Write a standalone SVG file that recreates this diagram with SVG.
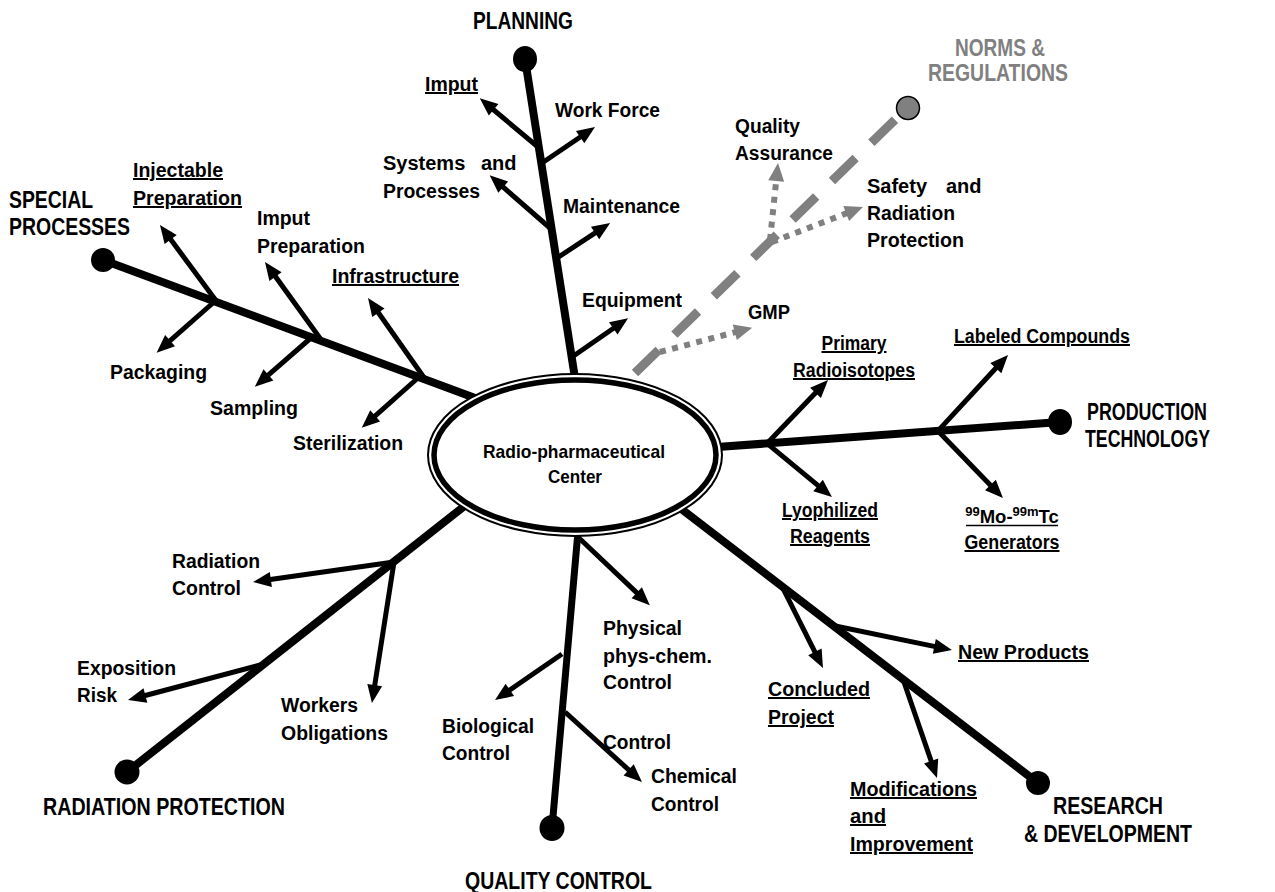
<svg xmlns="http://www.w3.org/2000/svg" width="1275" height="892" viewBox="0 0 1275 892">
<style>
text{font-family:"Liberation Sans",Arial,sans-serif;font-weight:bold;fill:#000}
.lb{font-size:20px}
.sm{font-size:20px}
.u{text-decoration:underline}
.hd{font-family:"Liberation Sans Narrow","Liberation Sans",Arial,sans-serif;font-size:23px}
.mid{text-anchor:middle}
.gray{fill:#808080}
.main{stroke:#000;stroke-width:8;fill:none}
.br{stroke:#000;stroke-width:5;fill:none;marker-end:url(#ah)}
.dot{stroke:#808080;stroke-width:6;stroke-dasharray:6 6.5;fill:none;marker-end:url(#ahg)}
.dash{stroke:#808080;stroke-width:9;stroke-dasharray:33 22;fill:none}
.knob{fill:#000}
</style>
<defs>
<marker id="ah" markerUnits="userSpaceOnUse" markerWidth="18" markerHeight="15" refX="6" refY="7.5" orient="auto" overflow="visible"><path d="M0,0 L18,7.5 L0,15 z" fill="#000"/></marker>
<marker id="ahg" markerUnits="userSpaceOnUse" markerWidth="18" markerHeight="16" refX="6" refY="8" orient="auto" overflow="visible"><path d="M0,0 L18,8 L0,16 z" fill="#808080"/></marker>
</defs>
<rect width="1275" height="892" fill="#fff"/>
<g id="connectors">
<line class="main" x1="525" y1="59" x2="578.4" y2="400"/>
<line class="main" x1="103" y1="260" x2="500" y2="407.3"/>
<line class="main" x1="1060" y1="422" x2="700" y2="448.3"/>
<line class="main" x1="127" y1="772" x2="480" y2="493.8"/>
<line class="main" style="stroke-width:7" x1="552" y1="828" x2="579" y2="520"/>
<line class="main" x1="1038" y1="783" x2="660" y2="492.6"/>
<line class="dash" x1="635" y1="373" x2="908" y2="107"/>
<line class="br" x1="538" y1="147" x2="489" y2="106"/>
<line class="br" x1="542" y1="163" x2="585.1" y2="133.8"/>
<line class="br" x1="550" y1="228" x2="498.7" y2="183.2"/>
<line class="br" x1="557" y1="258" x2="600.1" y2="229.7"/>
<line class="br" x1="572" y1="357" x2="618.2" y2="325"/>
<line class="br" x1="217" y1="302" x2="167.1" y2="234.6"/>
<line class="br" x1="214" y1="302" x2="165.6" y2="344.7"/>
<line class="br" x1="322" y1="341" x2="272" y2="271.7"/>
<line class="br" x1="312" y1="337" x2="263.9" y2="378.9"/>
<line class="br" x1="425" y1="379" x2="374.9" y2="307.8"/>
<line class="br" x1="419" y1="377" x2="370.7" y2="419.8"/>
<line class="br" x1="767" y1="443.4" x2="819.7" y2="388.6"/>
<line class="br" x1="767" y1="443.4" x2="822.7" y2="489.4"/>
<line class="br" x1="938" y1="430.9" x2="999.9" y2="363.8"/>
<line class="br" x1="938" y1="430.9" x2="994.6" y2="489.4"/>
<line class="br" x1="394" y1="562" x2="264.9" y2="580.3"/>
<line class="br" x1="394" y1="562" x2="373.8" y2="691.1"/>
<line class="br" x1="264" y1="664" x2="139.6" y2="697"/>
<line class="br" x1="579" y1="538" x2="641.1" y2="596.9"/>
<line class="br" x1="562" y1="654" x2="504.9" y2="693.3"/>
<line class="br" x1="565" y1="712" x2="633.1" y2="773.9"/>
<line class="br" x1="782" y1="586.4" x2="817.6" y2="657.3"/>
<line class="br" x1="833" y1="625.5" x2="940.2" y2="647.6"/>
<line class="br" x1="903" y1="679.3" x2="933.1" y2="766.7"/>
<line class="dot" x1="660" y1="352" x2="740.6" y2="330.7"/>
<line class="dot" x1="770" y1="240" x2="776.8" y2="175"/>
<line class="dot" x1="772" y1="242" x2="851.8" y2="211.3"/>
</g>
<g id="center">
<ellipse cx="575" cy="455" rx="147" ry="81" fill="#fff" stroke="#000" stroke-width="2"/>
<ellipse cx="575" cy="455" rx="141" ry="75" fill="none" stroke="#000" stroke-width="5.5"/>
<text class="mid" style="font-size:18.5px" x="574" y="458" textLength="182" lengthAdjust="spacingAndGlyphs">Radio-pharmaceutical</text>
<text class="mid" style="font-size:18.5px" x="575" y="483" textLength="54" lengthAdjust="spacingAndGlyphs">Center</text>
</g>
<g id="planning">
<ellipse class="knob" cx="525" cy="59" rx="12" ry="13"/>
<text class="hd mid" x="523" y="29" textLength="100" lengthAdjust="spacingAndGlyphs">PLANNING</text>
</g>
<g id="planning-labels">
<text class="lb u" x="425" y="91" textLength="53" lengthAdjust="spacingAndGlyphs">Imput</text>
<text class="lb" x="555" y="117" textLength="105" lengthAdjust="spacingAndGlyphs">Work Force</text>
<text class="lb" x="383" y="170">Systems<tspan x="481">and</tspan></text>
<text class="lb" x="383" y="198" textLength="97" lengthAdjust="spacingAndGlyphs">Processes</text>
<text class="lb" x="563" y="213" textLength="117" lengthAdjust="spacingAndGlyphs">Maintenance</text>
<text class="lb" x="582" y="307" textLength="100" lengthAdjust="spacingAndGlyphs">Equipment</text>
</g>
<g id="norms">
<circle cx="908" cy="108" r="11.5" fill="#808080" stroke="#000" stroke-width="1.5"/>
<text class="hd mid gray" x="1000" y="56" textLength="90" lengthAdjust="spacingAndGlyphs">NORMS &amp;</text>
<text class="hd mid gray" x="998" y="81" textLength="140" lengthAdjust="spacingAndGlyphs">REGULATIONS</text>
</g>
<g id="norms-labels">
<text class="lb" x="735" y="133" textLength="65" lengthAdjust="spacingAndGlyphs">Quality</text>
<text class="lb" x="735" y="160" textLength="98" lengthAdjust="spacingAndGlyphs">Assurance</text>
<text class="lb" x="867" y="193">Safety<tspan x="946">and</tspan></text>
<text class="lb" x="867" y="220" textLength="88" lengthAdjust="spacingAndGlyphs">Radiation</text>
<text class="lb" x="867" y="247" textLength="97" lengthAdjust="spacingAndGlyphs">Protection</text>
<text class="lb" x="748" y="319" textLength="42" lengthAdjust="spacingAndGlyphs">GMP</text>
</g>
<g id="special">
<circle class="knob" cx="103" cy="260" r="12"/>
<text class="hd" x="9" y="208" textLength="84" lengthAdjust="spacingAndGlyphs">SPECIAL</text>
<text class="hd" x="9" y="235" textLength="121" lengthAdjust="spacingAndGlyphs">PROCESSES</text>
</g>
<g id="special-labels">
<text class="lb u" x="133" y="177" textLength="90" lengthAdjust="spacingAndGlyphs">Injectable</text>
<text class="lb u" x="133" y="205" textLength="109" lengthAdjust="spacingAndGlyphs">Preparation</text>
<text class="lb" x="257" y="225" textLength="53" lengthAdjust="spacingAndGlyphs">Imput</text>
<text class="lb" x="257" y="253" textLength="108" lengthAdjust="spacingAndGlyphs">Preparation</text>
<text class="lb u" x="332" y="283" textLength="127" lengthAdjust="spacingAndGlyphs">Infrastructure</text>
<text class="lb" x="110" y="379" textLength="97" lengthAdjust="spacingAndGlyphs">Packaging</text>
<text class="lb" x="210" y="415" textLength="88" lengthAdjust="spacingAndGlyphs">Sampling</text>
<text class="lb" x="293" y="450" textLength="110" lengthAdjust="spacingAndGlyphs">Sterilization</text>
</g>
<g id="production">
<ellipse class="knob" cx="1060" cy="422" rx="12" ry="13"/>
<text class="hd mid" x="1147" y="420" textLength="120" lengthAdjust="spacingAndGlyphs">PRODUCTION</text>
<text class="hd mid" x="1147.5" y="447" textLength="125" lengthAdjust="spacingAndGlyphs">TECHNOLOGY</text>
</g>
<g id="production-labels">
<text class="sm u mid" x="854" y="350" textLength="65" lengthAdjust="spacingAndGlyphs">Primary</text>
<text class="sm u mid" x="854" y="377" textLength="122" lengthAdjust="spacingAndGlyphs">Radioisotopes</text>
<text class="sm u" x="954" y="343" textLength="176" lengthAdjust="spacingAndGlyphs">Labeled Compounds</text>
<text class="sm u mid" x="830" y="517" textLength="96" lengthAdjust="spacingAndGlyphs">Lyophilized</text>
<text class="sm u mid" x="830" y="543" textLength="80" lengthAdjust="spacingAndGlyphs">Reagents</text>
<text class="sm mid" style="font-size:18.5px" x="1012" y="523"><tspan style="font-size:13px" dy="-7">99</tspan><tspan dy="7">Mo-</tspan><tspan style="font-size:13px" dy="-7">99m</tspan><tspan dy="7">Tc</tspan></text>
<line x1="966" y1="525.5" x2="1058" y2="525.5" stroke="#000" stroke-width="1.5"/>
<text class="sm u mid" x="1012" y="549" textLength="95" lengthAdjust="spacingAndGlyphs">Generators</text>
</g>
<g id="radiation">
<circle class="knob" cx="127" cy="772" r="12.5"/>
<text class="hd mid" x="164" y="815" textLength="242" lengthAdjust="spacingAndGlyphs">RADIATION PROTECTION</text>
</g>
<g id="radiation-labels">
<text class="lb" x="172" y="568" textLength="88" lengthAdjust="spacingAndGlyphs">Radiation</text>
<text class="lb" x="172" y="595" textLength="69" lengthAdjust="spacingAndGlyphs">Control</text>
<text class="lb" x="77" y="675" textLength="99" lengthAdjust="spacingAndGlyphs">Exposition</text>
<text class="lb" x="77" y="702" textLength="40" lengthAdjust="spacingAndGlyphs">Risk</text>
<text class="lb" x="281" y="712" textLength="77" lengthAdjust="spacingAndGlyphs">Workers</text>
<text class="lb" x="281" y="740" textLength="107" lengthAdjust="spacingAndGlyphs">Obligations</text>
</g>
<g id="quality">
<ellipse class="knob" cx="552" cy="828" rx="12.5" ry="13"/>
<text class="hd mid" x="558.5" y="889" textLength="187" lengthAdjust="spacingAndGlyphs">QUALITY CONTROL</text>
</g>
<g id="quality-labels">
<text class="lb" x="603" y="635" textLength="79" lengthAdjust="spacingAndGlyphs">Physical</text>
<text class="lb" x="603" y="663" textLength="109" lengthAdjust="spacingAndGlyphs">phys-chem.</text>
<text class="lb" x="603" y="689" textLength="69" lengthAdjust="spacingAndGlyphs">Control</text>
<text class="lb" x="442" y="733" textLength="92" lengthAdjust="spacingAndGlyphs">Biological</text>
<text class="lb" x="442" y="760" textLength="68" lengthAdjust="spacingAndGlyphs">Control</text>
<text class="lb" x="603" y="749" textLength="68" lengthAdjust="spacingAndGlyphs">Control</text>
<text class="lb" x="651" y="783" textLength="86" lengthAdjust="spacingAndGlyphs">Chemical</text>
<text class="lb" x="651" y="811" textLength="68" lengthAdjust="spacingAndGlyphs">Control</text>
</g>
<g id="research">
<circle class="knob" cx="1038" cy="783" r="12"/>
<text class="hd mid" x="1108" y="814" textLength="110" lengthAdjust="spacingAndGlyphs">RESEARCH</text>
<text class="hd mid" x="1108" y="842" textLength="168" lengthAdjust="spacingAndGlyphs">&amp; DEVELOPMENT</text>
</g>
<g id="research-labels">
<text class="lb u" x="768" y="696" textLength="102" lengthAdjust="spacingAndGlyphs">Concluded</text>
<text class="lb u" x="768" y="724" textLength="66" lengthAdjust="spacingAndGlyphs">Project</text>
<text class="lb u" x="958" y="659" textLength="131" lengthAdjust="spacingAndGlyphs">New Products</text>
<text class="lb u" x="850" y="796" textLength="127" lengthAdjust="spacingAndGlyphs">Modifications</text>
<text class="lb u" x="850" y="823" textLength="36" lengthAdjust="spacingAndGlyphs">and</text>
<text class="lb u" x="850" y="851" textLength="123" lengthAdjust="spacingAndGlyphs">Improvement</text>
</g>
</svg>
